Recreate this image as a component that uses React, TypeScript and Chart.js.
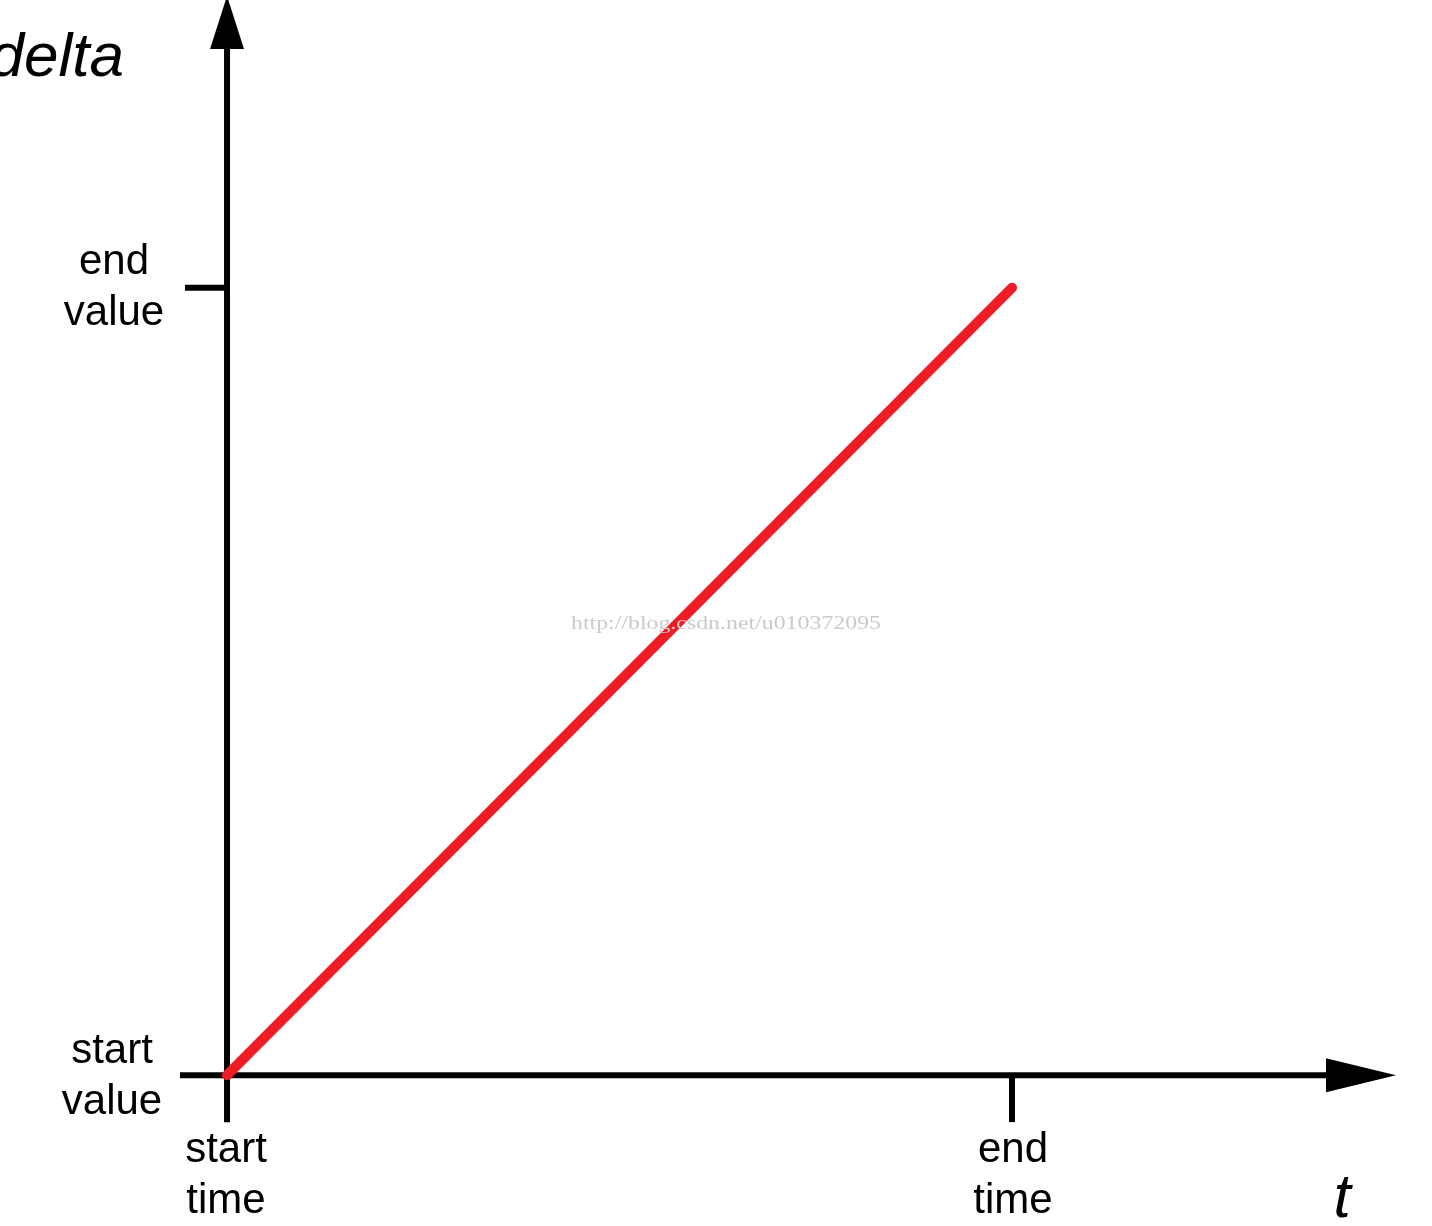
import React, { useEffect, useRef } from "react";
import { Chart, registerables } from "chart.js";

Chart.register(...registerables);

// Data: the tween moves linearly from start value to end value between start and end time
const timeValues = [0, 1]; // start time, end time
const deltaValues = [0, 1]; // start value, end value
const xTickLabels = [["start", "time"], ["end", "time"]];
const yTickLabels = [["start", "value"], ["end", "value"]];
const xAxisTitle = "t";
const yAxisTitle = "delta";
const watermark = "http://blog.csdn.net/u010372095";

const W = 1432;
const H = 1226;

const axesPlugin = {
  id: "axesPlugin",
  beforeDatasetsDraw(chart: any) {
    const { ctx, chartArea } = chart;
    const xs = chart.scales.x;
    const ys = chart.scales.y;
    const x0 = xs.getPixelForValue(timeValues[0]);
    const x1 = xs.getPixelForValue(timeValues[1]);
    const y0 = ys.getPixelForValue(deltaValues[0]);
    const y1 = ys.getPixelForValue(deltaValues[1]);
    ctx.save();
    ctx.strokeStyle = "#000";
    ctx.fillStyle = "#000";
    ctx.lineWidth = 6;
    ctx.lineCap = "butt";
    // y axis
    ctx.beginPath();
    ctx.moveTo(x0, y0 + 47);
    ctx.lineTo(x0, chartArea.top + 46);
    ctx.stroke();
    // y arrow
    ctx.beginPath();
    ctx.moveTo(x0, chartArea.top - 4);
    ctx.lineTo(x0 - 17, chartArea.top + 49);
    ctx.lineTo(x0 + 17, chartArea.top + 49);
    ctx.closePath();
    ctx.fill();
    // x axis
    ctx.beginPath();
    ctx.moveTo(x0 - 47, y0);
    ctx.lineTo(1330, y0);
    ctx.stroke();
    // x arrow
    ctx.beginPath();
    ctx.moveTo(1396, y0);
    ctx.lineTo(1326, y0 - 17);
    ctx.lineTo(1326, y0 + 17);
    ctx.closePath();
    ctx.fill();
    // end value tick
    ctx.beginPath();
    ctx.moveTo(x0 - 42, y1);
    ctx.lineTo(x0, y1);
    ctx.stroke();
    // end time tick
    ctx.beginPath();
    ctx.moveTo(x1, y0);
    ctx.lineTo(x1, y0 + 47);
    ctx.stroke();
    ctx.restore();
  },
  afterDraw(chart: any) {
    const { ctx } = chart;
    const xs = chart.scales.x;
    const ys = chart.scales.y;
    const y0 = ys.getPixelForValue(deltaValues[0]);
    ctx.save();
    ctx.fillStyle = "#000";
    ctx.font = '42px "Liberation Sans", Arial, sans-serif';
    ctx.textAlign = "center";
    ctx.textBaseline = "middle";
    // y tick labels
    const yLabelX = [112, 114];
    yTickLabels.forEach((lines, i) => {
      const py = ys.getPixelForValue(deltaValues[i]);
      const offs = i === 0 ? [-24, 27] : [-25, 26];
      lines.forEach((l, k) => ctx.fillText(l, yLabelX[i], py + offs[k]));
    });
    // x tick labels
    xTickLabels.forEach((lines, i) => {
      const px = xs.getPixelForValue(timeValues[i]);
      lines.forEach((l, k) => ctx.fillText(l, px + (i === 0 ? -1 : 1), y0 + 75 + k * 51));
    });
    // axis titles
    ctx.font = 'italic 62px "Liberation Sans", Arial, sans-serif';
    ctx.textAlign = "right";
    ctx.textBaseline = "alphabetic";
    ctx.fillText(yAxisTitle, 124, 76);
    ctx.textAlign = "center";
    ctx.fillText(xAxisTitle, 1342, 1217);
    // watermark
    ctx.font = '19px "Liberation Serif", serif';
    ctx.fillStyle = "#cacaca";
    ctx.textAlign = "left";
    ctx.textBaseline = "middle";
    const mw = ctx.measureText(watermark).width;
    ctx.translate(571, 624);
    ctx.scale(310 / mw, 1);
    ctx.fillText(watermark, 0, 0);
    ctx.restore();
  },
};

export default function App() {
  const ref = useRef<HTMLCanvasElement>(null);
  useEffect(() => {
    document.body.style.margin = "0";
    const canvas = ref.current!;
    const chart = new Chart(canvas, {
      type: "line",
      data: {
        datasets: [
          {
            data: timeValues.map((t, i) => ({ x: t, y: deltaValues[i] })),
            borderColor: "#ee1c24",
            borderWidth: 10,
            borderCapStyle: "round",
            pointRadius: 0,
            tension: 0,
          },
        ],
      },
      options: {
        responsive: false,
        animation: false,
        devicePixelRatio: 1,
        layout: { padding: 0 },
        plugins: { legend: { display: false }, tooltip: { enabled: false } },
        scales: {
          x: { type: "linear", display: false, min: -0.2892, max: 1.5350 },
          y: { type: "linear", display: false, min: -0.1916, max: 1.3655 },
        },
      },
      plugins: [axesPlugin],
    });
    return () => chart.destroy();
  }, []);
  return (
    <div style={{ width: W, height: H, background: "#fff" }}>
      <canvas ref={ref} width={W} height={H} style={{ display: "block" }} />
    </div>
  );
}
